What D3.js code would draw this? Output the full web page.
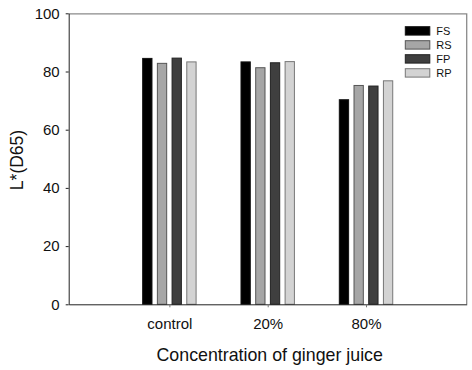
<!DOCTYPE html>
<html>
<head>
<meta charset="utf-8">
<script src="https://cdn.jsdelivr.net/npm/d3@7"></script>
<style>
body { margin: 0; background: #fff; }
text { font-family: "Liberation Sans", Arial, sans-serif; }
</style>
</head>
<body>
<div id="chart"></div>
<script>
var categories = ["control", "20%", "80%"];
var seriesNames = ["FS", "RS", "FP", "RP"];
var FS = [84.5, 83.3, 70.3];
var RS = [82.8, 81.3, 75.2];
var FP = [84.6, 83.0, 75.0];
var RP = [83.3, 83.4, 76.8];
var yTicks = [0, 20, 40, 60, 80, 100];

var colors = ["#000000", "#a6a6a6", "#3f3f3f", "#d3d3d3"];
var strokes = ["#111111", "#555555", "#222222", "#777777"];

var width = 472,
    height = 370,
    margin = {top: 13.3, right: 5.3, bottom: 65.7, left: 68.7};

var chartWidth = width - margin.left - margin.right,
    chartHeight = height - margin.top - margin.bottom;

var series = [FS, RS, FP, RP];
var data = categories.map(function(c, i) {
    return {cat: c, values: seriesNames.map(function(s, j) {
        return {name: s, value: series[j][i]};
    })};
});

var svg = d3.select("#chart").append("svg")
    .attr("width", width)
    .attr("height", height);

var g = svg.append("g")
    .attr("transform", "translate(" + margin.left + "," + margin.top + ")");

var xScale = d3.scalePoint()
    .domain(categories)
    .range([0, chartWidth])
    .padding(1.024);

var yScale = d3.scaleLinear()
    .domain([0, 100])
    .range([chartHeight, 0]);

// bars inside a group: 14.7px step, 9.3px wide
var inner = d3.scaleBand()
    .domain(seriesNames)
    .range([-29.4, 29.4])
    .paddingInner(0.367)
    .paddingOuter(0.183);

var color = d3.scaleOrdinal().domain(seriesNames).range(colors);
var stroke = d3.scaleOrdinal().domain(seriesNames).range(strokes);

// frame top + right
g.append("path")
    .attr("d", "M0,0.5H" + chartWidth + "V" + chartHeight)
    .attr("fill", "none")
    .attr("stroke", "#8a8a8a")
    .attr("stroke-width", 1.3);

var groups = g.selectAll("g.grp")
    .data(data)
    .enter().append("g")
    .attr("class", "grp")
    .attr("transform", function(d) { return "translate(" + xScale(d.cat) + ",0)"; });

groups.selectAll("rect")
    .data(function(d) { return d.values; })
    .enter().append("rect")
    .attr("x", function(d) { return inner(d.name); })
    .attr("width", inner.bandwidth())
    .attr("y", function(d) { return yScale(d.value); })
    .attr("height", function(d) { return chartHeight - yScale(d.value); })
    .attr("fill", function(d) { return color(d.name); })
    .attr("stroke", function(d) { return stroke(d.name); })
    .attr("stroke-width", 1);

var yAxis = g.append("g")
    .call(d3.axisLeft(yScale).tickValues(yTicks).tickSize(3).tickSizeOuter(0));
yAxis.select(".domain").attr("stroke", "#222");
yAxis.selectAll(".tick line").attr("stroke", "#222");
yAxis.selectAll(".tick text")
    .attr("x", -9)
    .attr("font-size", "15px")
    .attr("fill", "#111")
    .style("font-family", "'Liberation Sans', Arial, sans-serif");

var xAxis = g.append("g")
    .attr("transform", "translate(0," + chartHeight + ")")
    .call(d3.axisBottom(xScale).tickSize(3).tickSizeOuter(0));
xAxis.select(".domain").attr("stroke", "#222");
xAxis.selectAll(".tick line").attr("stroke", "#777");
xAxis.selectAll(".tick text")
    .attr("y", 14)
    .attr("font-size", "15px")
    .attr("fill", "#111")
    .style("font-family", "'Liberation Sans', Arial, sans-serif");

// axis titles
svg.append("text")
    .attr("x", 269.7)
    .attr("y", 361)
    .attr("text-anchor", "middle")
    .attr("font-size", "17.8px")
    .attr("fill", "#111")
    .text("Concentration of ginger juice");

svg.append("text")
    .attr("transform", "translate(23,160) rotate(-90)")
    .attr("text-anchor", "middle")
    .attr("font-size", "17.5px")
    .attr("fill", "#111")
    .text("L*(D65)");

// legend
var legend = svg.append("g")
    .attr("transform", "translate(405.3,26.7)");
var li = legend.selectAll("g")
    .data(seriesNames)
    .enter().append("g")
    .attr("transform", function(d, i) { return "translate(0," + i * 14 + ")"; });
li.append("rect")
    .attr("width", 24.5)
    .attr("height", 8.4)
    .attr("fill", function(d) { return color(d); })
    .attr("stroke", function(d) { return stroke(d); })
    .attr("stroke-width", 1);
li.append("text")
    .attr("x", 31)
    .attr("y", 8.5)
    .attr("font-size", "11px")
    .attr("fill", "#111")
    .text(function(d) { return d; });
</script>
</body>
</html>
